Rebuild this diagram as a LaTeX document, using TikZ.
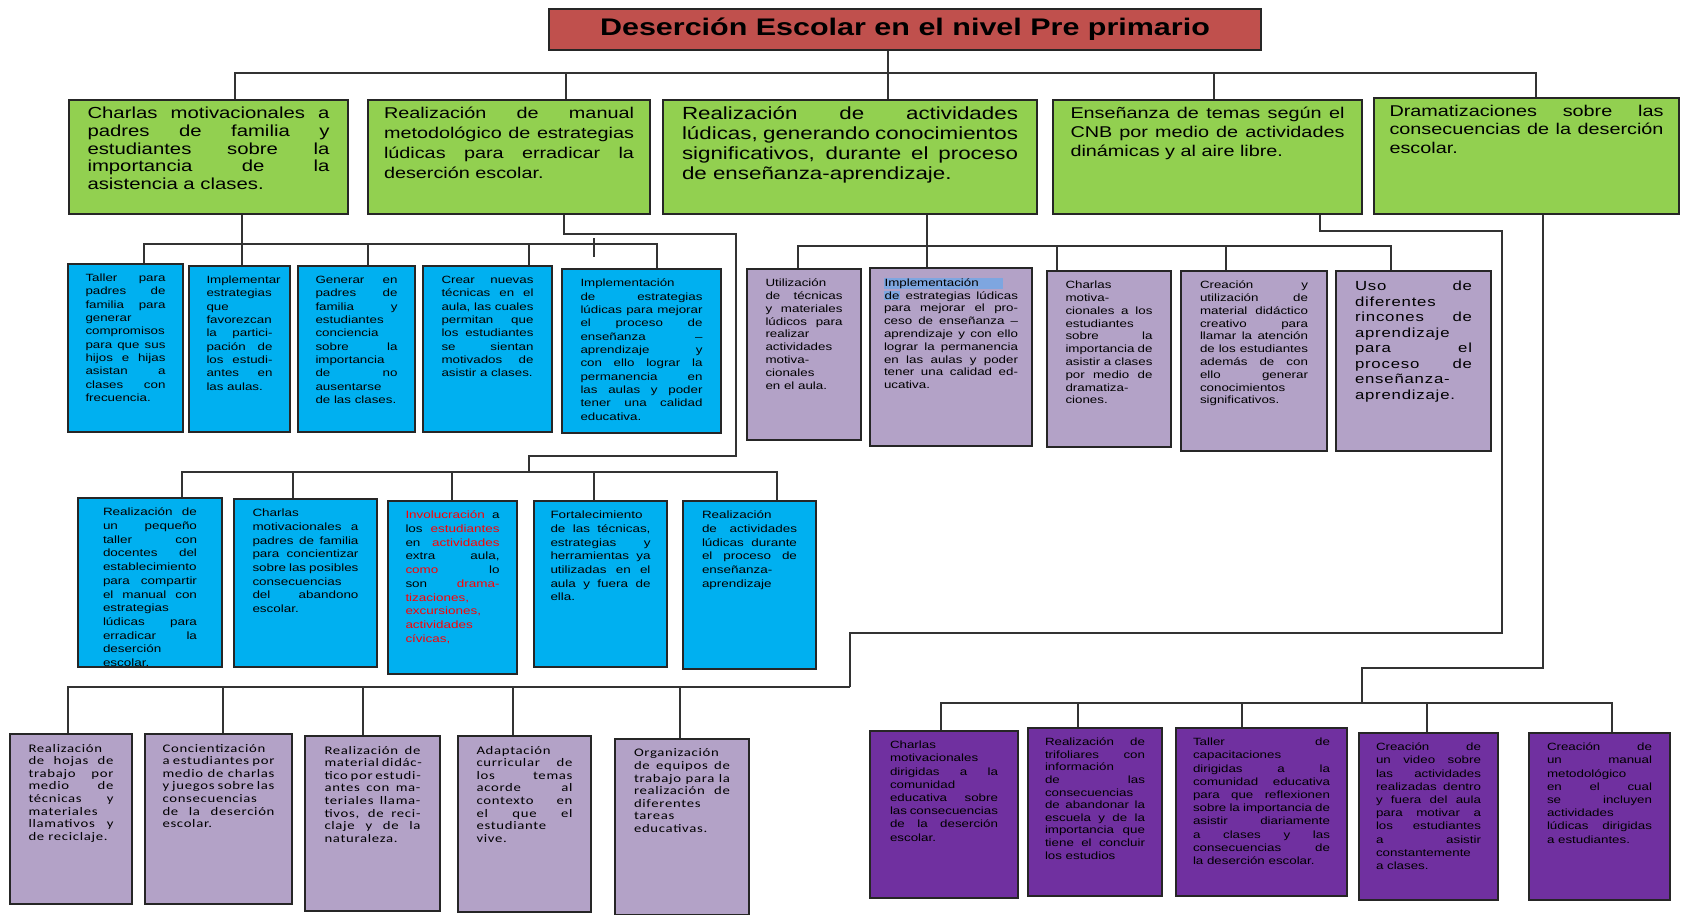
\documentclass[tikz,border=0pt]{standalone}
\usepackage{fontspec}
\setmainfont{Liberation Sans}[FakeStretch=1.27]
\newfontfamily\calibri{Carlito}[FakeStretch=1.27,LetterSpace=6]

\definecolor{rojotit}{HTML}{C0504D}
\definecolor{verdeg}{HTML}{92D050}
\definecolor{azulc}{HTML}{00B0F0}
\definecolor{lila}{HTML}{B3A2C7}
\definecolor{morado}{HTML}{7030A0}
\definecolor{resalte}{HTML}{7EA6E0}

\hyphenpenalty=4000
\newlength\margensup
\setlength\margensup{5pt}
\newcommand\bloque[3]{\parbox[t][#2pt][t]{#1pt}{\vspace*{\margensup}\sloppy #3}}
\newcommand\marca[1]{{\fboxsep=0.3pt\colorbox{resalte}{#1}}}
\newcommand\fverde[2]{\fontsize{#1}{#2}\selectfont\hyphenpenalty=10000 \setlength\margensup{3.5pt}}

\begin{document}
\begin{tikzpicture}[x=0.5pt, y=-0.5pt,
  caja/.style 2 args={anchor=north west, inner sep=0pt, draw=black!85, line width=1pt,
    minimum width=(#1-2)*0.5pt, minimum height=(#2-2)*0.5pt},
  titulo/.style={fill=rojotit, font=\bfseries\fontsize{12}{15}\selectfont},
  verde/.style={fill=verdeg},
  azul/.style={fill=azulc, font=\fontsize{5.25}{6.67}\selectfont},
  lilac/.style={fill=lila, font=\fontsize{5.25}{6.4}\selectfont},
  lilab/.style={fill=lila, font=\calibri\fontsize{5.8}{6.3}\selectfont},
  moradc/.style={fill=morado, font=\fontsize{5.25}{6.6}\selectfont},
  linea/.style={draw=black!80, line width=0.7pt}]

  \path[use as bounding box, fill=white] (0,0) rectangle (1682,915);

  % titulo y primer nivel
  \path node (t)  at ( 548,8) [caja={714}{43}, titulo] {Deserción Escolar en el nivel Pre primario}
        node (g1) at (  68,99) [caja={281}{116}, verde, font={\fverde{8}{8.9}}]
          {\bloque{121}{57}{Charlas motivacionales a\linebreak padres de familia y\linebreak estudiantes sobre la\linebreak importancia de la\linebreak asistencia a clases.}}
        node (g2) at ( 367,99) [caja={284}{116}, verde, font={\fverde{7.8}{10}}]
          {\bloque{125}{57}{Realización de manual metodológico de estrategias lúdicas para erradicar la deserción escolar.}}
        node (g3) at ( 662,99) [caja={376}{116}, verde, font={\fverde{8.8}{10}}]
          {\bloque{168}{57}{Realización de actividades lúdicas, generando conocimientos significativos, durante el proceso de enseñanza-aprendizaje.}}
        node (g4) at (1052,99) [caja={311}{116}, verde, font={\fverde{7.8}{9.4}}]
          {\bloque{137}{57}{Enseñanza de temas según el CNB por medio de actividades dinámicas y al aire libre.}}
        node (g5) at (1373,97) [caja={307}{118}, verde, font={\fverde{7.8}{9.2}}]
          {\bloque{137}{58}{Dramatizaciones sobre las consecuencias de la deserción escolar.}};

  % azules bajo g1
  \path node (b11) at ( 67,263) [caja={117}{170}, azul]
          {\bloque{40}{84}{Taller para padres de familia para generar compromisos para que sus hijos e hijas asistan a clases con frecuencia.}}
        node (b12) at (188,265) [caja={103}{168}, azul]
          {\bloque{33}{83}{Implementar estrategias que favorezcan la participación de los estudiantes en las aulas.}}
        node (b13) at (297,265) [caja={119}{168}, azul]
          {\bloque{41}{83}{Generar en padres de familia y estudiantes conciencia sobre la importancia de no ausentarse de las clases.}}
        node (b14) at (422,265) [caja={131}{168}, azul]
          {\bloque{46}{83}{Crear nuevas técnicas en el aula, las cuales permitan que los estudiantes se sientan motivados de asistir a clases.}}
        node (b15) at (561,268) [caja={161}{166}, azul]
          {\bloque{61}{82}{Implementación de estrategias lúdicas para mejorar el proceso de enseñanza – aprendizaje y con ello lograr la permanencia en las aulas y poder tener una calidad educativa.}};

  % lilas bajo g3
  \path node (p11) at ( 746,268) [caja={116}{173}, lilac]
          {\bloque{38.5}{85.5}{Utilización de técnicas y materiales lúdicos para realizar actividades motivacionales en el aula.}}
        node (p12) at ( 869,267) [caja={164}{180}, lilac]
          {\bloque{67}{89}{\marca{Implementación\hspace{12pt}}\newline\marca{de} estrategias lúdicas para mejorar el proceso de enseñanza – aprendizaje y con ello lograr la permanencia en las aulas y poder tener una calidad educativa.}}
        node (p13) at (1046,270) [caja={126}{178}, lilac]
          {\bloque{43.5}{88}{Charlas motivacionales a los estudiantes sobre la importancia de asistir a clases por medio de dramatizaciones.}}
        node (p14) at (1180,270) [caja={148}{182}, lilac]
          {\bloque{54}{90}{Creación y utilización de material didáctico creativo para llamar la atención de los estudiantes además de con ello generar conocimientos significativos.}}
        node (p15) at (1335,270) [caja={157}{182}, lilac, font={\fontsize{6.6}{7.75}\selectfont\addfontfeature{LetterSpace=6}}]
          {\bloque{58.5}{90}{Uso de diferentes rincones de aprendizaje para el proceso de enseñanza-aprendizaje.}};

  % azules bajo g2
  \path node (b21) at ( 77,497) [caja={146}{171}, azul, font=\fontsize{5.3}{6.85}\selectfont]
          {\bloque{47}{84.5}{Realización de un pequeño taller con docentes del establecimiento para compartir el manual con estrategias lúdicas para erradicar la deserción escolar.}}
        node (b22) at (233,498) [caja={145}{170}, azul, font=\fontsize{5.3}{6.85}\selectfont]
          {\bloque{53}{84}{Charlas motivacionales a padres de familia para concientizar sobre las posibles consecuencias del abandono escolar.}}
        node (b23) at (387,500) [caja={131}{175}, azul, font=\fontsize{5.3}{6.85}\selectfont]
          {\bloque{47}{86.5}{\textcolor{red}{Involucración} a los \textcolor{red}{estudiantes} en \textcolor{red}{actividades} extra aula, \textcolor{red}{como} lo son \textcolor{red}{dramatizaciones, excursiones, actividades cívicas,}}}
        node (b24) at (533,500) [caja={135}{168}, azul, font=\fontsize{5.3}{6.85}\selectfont]
          {\bloque{50}{83}{Fortalecimiento de las técnicas, estrategias y herramientas ya utilizadas en el aula y fuera de ella.}}
        node (b25) at (682,500) [caja={135}{170}, azul, font=\fontsize{5.3}{6.85}\selectfont]
          {\bloque{47.5}{84}{Realización de actividades lúdicas durante el proceso de enseñanza-aprendizaje}};

  % lilas bajo g4
  \path node (l1) at (  9,733) [caja={124}{172}, lilab]
          {\bloque{42.5}{85}{Realización de hojas de trabajo por medio de técnicas y materiales llamativos y de reciclaje.}}
        node (l2) at (144,733) [caja={149}{172}, lilab]
          {\bloque{56}{85}{Concientización a estudiantes por medio de charlas y juegos sobre las consecuencias de la deserción escolar.}}
        node (l3) at (304,735) [caja={137}{177}, lilab]
          {\bloque{48}{87.5}{Realización de material didáctico por estudiantes con materiales llamativos, de reciclaje y de la naturaleza.}}
        node (l4) at (457,735) [caja={135}{178}, lilab]
          {\bloque{48}{88}{Adaptación curricular de los temas acorde al contexto en el que el estudiante vive.}}
        node (l5) at (614,738) [caja={136}{178}, lilab]
          {\bloque{48}{88}{Organización de equipos de trabajo para la realización de diferentes tareas educativas.}};

  % morados bajo g5
  \path node (d1) at ( 869,730) [caja={150}{169}, moradc]
          {\bloque{54}{83.5}{Charlas motivacionales dirigidas a la comunidad educativa sobre las consecuencias de la deserción escolar.}}
        node (d2) at (1027,727) [caja={136}{170}, moradc, font=\fontsize{5.25}{6.3}\selectfont]
          {\bloque{50}{84}{Realización de trifoliares con información de las consecuencias de abandonar la escuela y de la importancia que tiene el concluir los estudios}}
        node (d3) at (1175,727) [caja={173}{170}, moradc]
          {\bloque{68.5}{84}{Taller de capacitaciones dirigidas a la comunidad educativa para que reflexionen sobre la importancia de asistir diariamente a clases y las consecuencias de la deserción escolar.}}
        node (d4) at (1358,732) [caja={141}{169}, moradc]
          {\bloque{52.5}{83.5}{Creación de un video sobre las actividades realizadas dentro y fuera del aula para motivar a los estudiantes a asistir constantemente a clases.}}
        node (d5) at (1528,732) [caja={143}{169}, moradc]
          {\bloque{52.5}{83.5}{Creación de un manual metodológico en el cual se incluyen actividades lúdicas dirigidas a estudiantes.}};

  % conectores
  \coordinate (tic) at (594,238);
  \draw[linea] (t.south -| 888,0) -- (g3.north -| 888,0)
        (g1.north -| 235,0) -- (235,73) -| (g5.north -| 1536,0)
        (g2.north -| 566,0) -- (566,73)
        (g4.north -| 1214,0) -- (1214,73);
  \draw[linea] (g1.south -| 242,0) -- (b12.north -| 242,0)
        (b11.north -| 144,0) -- (144,244) -| (b15.north -| 657,0)
        (b13.north -| 368,0) -- (368,244)
        (b14.north -| 529,0) -- (529,244)
        (tic) -- ++(0,19);
  \draw[linea] (g2.south -| 564,0) |- (736,234) |- (529,456) -- (529,472)
        (b21.north -| 182,0) -- (182,472) -| (b25.north -| 777,0)
        (b22.north -| 293,0) -- (293,472)
        (b23.north -| 452,0) -- (452,472)
        (b24.north -| 594,0) -- (594,472);
  \draw[linea] (g3.south -| 927,0) -- (p12.north -| 927,0)
        (p11.north -| 798,0) -- (798,246) -| (p15.north -| 1391,0)
        (p13.north -| 1057,0) -- (1057,246)
        (p14.north -| 1226,0) -- (1226,246);
  \draw[linea] (g4.south -| 1320,0) |- (1502,231) |- (850,633) -- (850,687)
        (l1.north -| 68,0) |- (850,687)
        (l2.north -| 223,0) -- (223,687)
        (l3.north -| 363,0) -- (363,687)
        (l4.north -| 513,0) -- (513,687)
        (l5.north -| 680,0) -- (680,687);
  \draw[linea] (g5.south -| 1543,0) |- (1362,668) -- (1362,703)
        (d1.north -| 941,0) -- (941,703) -| (d5.north -| 1612,0)
        (d2.north -| 1078,0) -- (1078,703)
        (d3.north -| 1242,0) -- (1242,703)
        (d4.north -| 1427,0) -- (1427,703);
\end{tikzpicture}
\end{document}
